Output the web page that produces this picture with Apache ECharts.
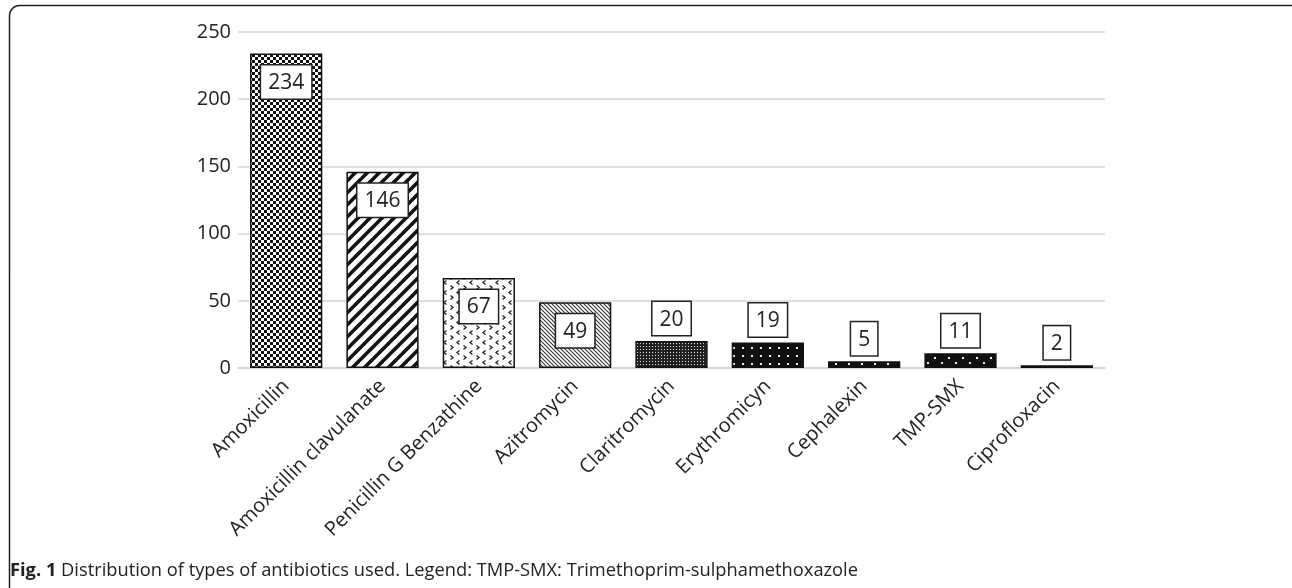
<!DOCTYPE html>
<html>
<head>
<meta charset="utf-8">
<script src="https://cdn.jsdelivr.net/npm/echarts@6/dist/echarts.min.js"></script>
<style>html,body{margin:0;padding:0;background:#fff}#c{width:1292px;height:588px}</style>
</head>
<body>
<div id="c"></div>
<script>
const categories = ['Amoxicillin','Amoxicillin clavulanate','Penicillin G Benzathine','Azitromycin','Claritromycin','Erythromicyn','Cephalexin','TMP-SMX','Ciprofloxacin'];
const values = [234, 146, 67, 49, 20, 19, 5, 11, 2];
const yTicks = { min: 0, max: 250, interval: 50 };
const captionBold = 'Fig. 1';
const captionText = ' Distribution of types of antibiotics used. Legend: TMP-SMX: Trimethoprim-sulphamethoxazole';

function pat(w, h, draw) {
  const c = document.createElement('canvas');
  c.width = w; c.height = h;
  const x = c.getContext('2d');
  draw(x, w, h);
  return { image: c, repeat: 'repeat' };
}
const patterns = [
  pat(6, 6, (x) => { x.fillStyle = '#fff'; x.fillRect(0,0,6,6); x.fillStyle = '#111'; x.fillRect(0,0,3,3); x.fillRect(3,3,3,3); }),
  pat(12, 12, (x) => { x.fillStyle = '#fff'; x.fillRect(0,0,12,12); x.strokeStyle = '#111'; x.lineWidth = 3.6;
    [[-12,12,12,-12],[0,12,12,0],[0,24,24,0]].forEach(l => { x.beginPath(); x.moveTo(l[0], l[1]); x.lineTo(l[2], l[3]); x.stroke(); }); }),
  pat(13, 10, (x) => { x.fillStyle = '#fff'; x.fillRect(0,0,13,10); x.strokeStyle = '#222'; x.lineWidth = 1.3;
    x.beginPath(); x.moveTo(4.5,0.5); x.lineTo(2,2.5); x.lineTo(4.5,4.5); x.stroke();
    x.beginPath(); x.moveTo(8.5,5.5); x.lineTo(11,7.5); x.lineTo(8.5,9.5); x.stroke(); }),
  pat(4, 4, (x) => { x.fillStyle = '#fff'; x.fillRect(0,0,4,4); x.strokeStyle = '#333'; x.lineWidth = 1.1;
    [[0,0,4,4],[-4,0,4,8],[0,-4,8,4]].forEach(l => { x.beginPath(); x.moveTo(l[0], l[1]); x.lineTo(l[2], l[3]); x.stroke(); }); }),
  pat(3, 3, (x) => { x.fillStyle = '#222'; x.fillRect(0,0,3,3); x.fillStyle = '#ddd'; x.fillRect(1,1,1,1); }),
  pat(9, 8, (x) => { x.fillStyle = '#111'; x.fillRect(0,0,9,8); x.fillStyle = '#eee'; x.fillRect(4,3,2,2); }),
  pat(13, 8, (x) => { x.fillStyle = '#111'; x.fillRect(0,0,13,8); x.fillStyle = '#eee'; x.fillRect(3,3,2,2); }),
  pat(14, 10, (x) => { x.fillStyle = '#111'; x.fillRect(0,0,14,10); x.fillStyle = '#eee'; x.fillRect(3,2,2,2); x.fillRect(10,7,2,2); }),
  '#333'
];

const data = values.map((v, i) => ({
  value: v,
  itemStyle: { color: patterns[i] },
  label: v >= 40 ? { position: 'insideTop', distance: 12 } : { position: 'top', distance: 6 }
}));

const chart = echarts.init(document.getElementById('c'), null, { renderer: 'canvas' });
chart.setOption({
  animation: false,
  backgroundColor: '#fff',
  textStyle: { fontFamily: 'Open Sans' },
  grid: { left: 238, right: 187, top: 32, bottom: 220, containLabel: false },
  xAxis: {
    type: 'category',
    data: categories,
    axisLine: { lineStyle: { color: '#d4d4d4', width: 1.5 } },
    axisTick: { show: false },
    axisLabel: { interval: 0, rotate: 45, fontSize: 20, color: '#222', margin: 15, fontFamily: 'Open Sans' }
  },
  yAxis: {
    type: 'value',
    min: yTicks.min, max: yTicks.max, interval: yTicks.interval,
    axisLine: { show: false }, axisTick: { show: false },
    splitLine: { lineStyle: { color: '#d4d4d4', width: 1.5 } },
    axisLabel: { fontSize: 20, color: '#222', margin: 7, fontFamily: 'Open Sans' }
  },
  series: [{
    type: 'bar',
    data: data,
    barCategoryGap: '25%',
    itemStyle: { borderColor: '#111', borderWidth: 1.5 },
    label: {
      show: true, fontSize: 21, color: '#222', fontFamily: 'Open Sans',
      backgroundColor: '#fff', borderColor: '#222', borderWidth: 1.5, padding: [7, 7, 5, 7]
    }
  }],
  graphic: [
    { type: 'rect', silent: true, shape: { x: 9.5, y: 5.5, width: 1292, height: 700, r: 10 },
      style: { fill: 'none', stroke: '#222', lineWidth: 1.5 } },
    { type: 'text', left: 10, top: 562, style: {
      text: '{b|' + captionBold + '}' + captionText,
      font: '18.3px "Open Sans"', fill: '#222',
      rich: { b: { fontWeight: 'bold', fontSize: 18.3, fontFamily: 'Open Sans', fill: '#222' } }
    } }
  ]
});
</script>
</body>
</html>
